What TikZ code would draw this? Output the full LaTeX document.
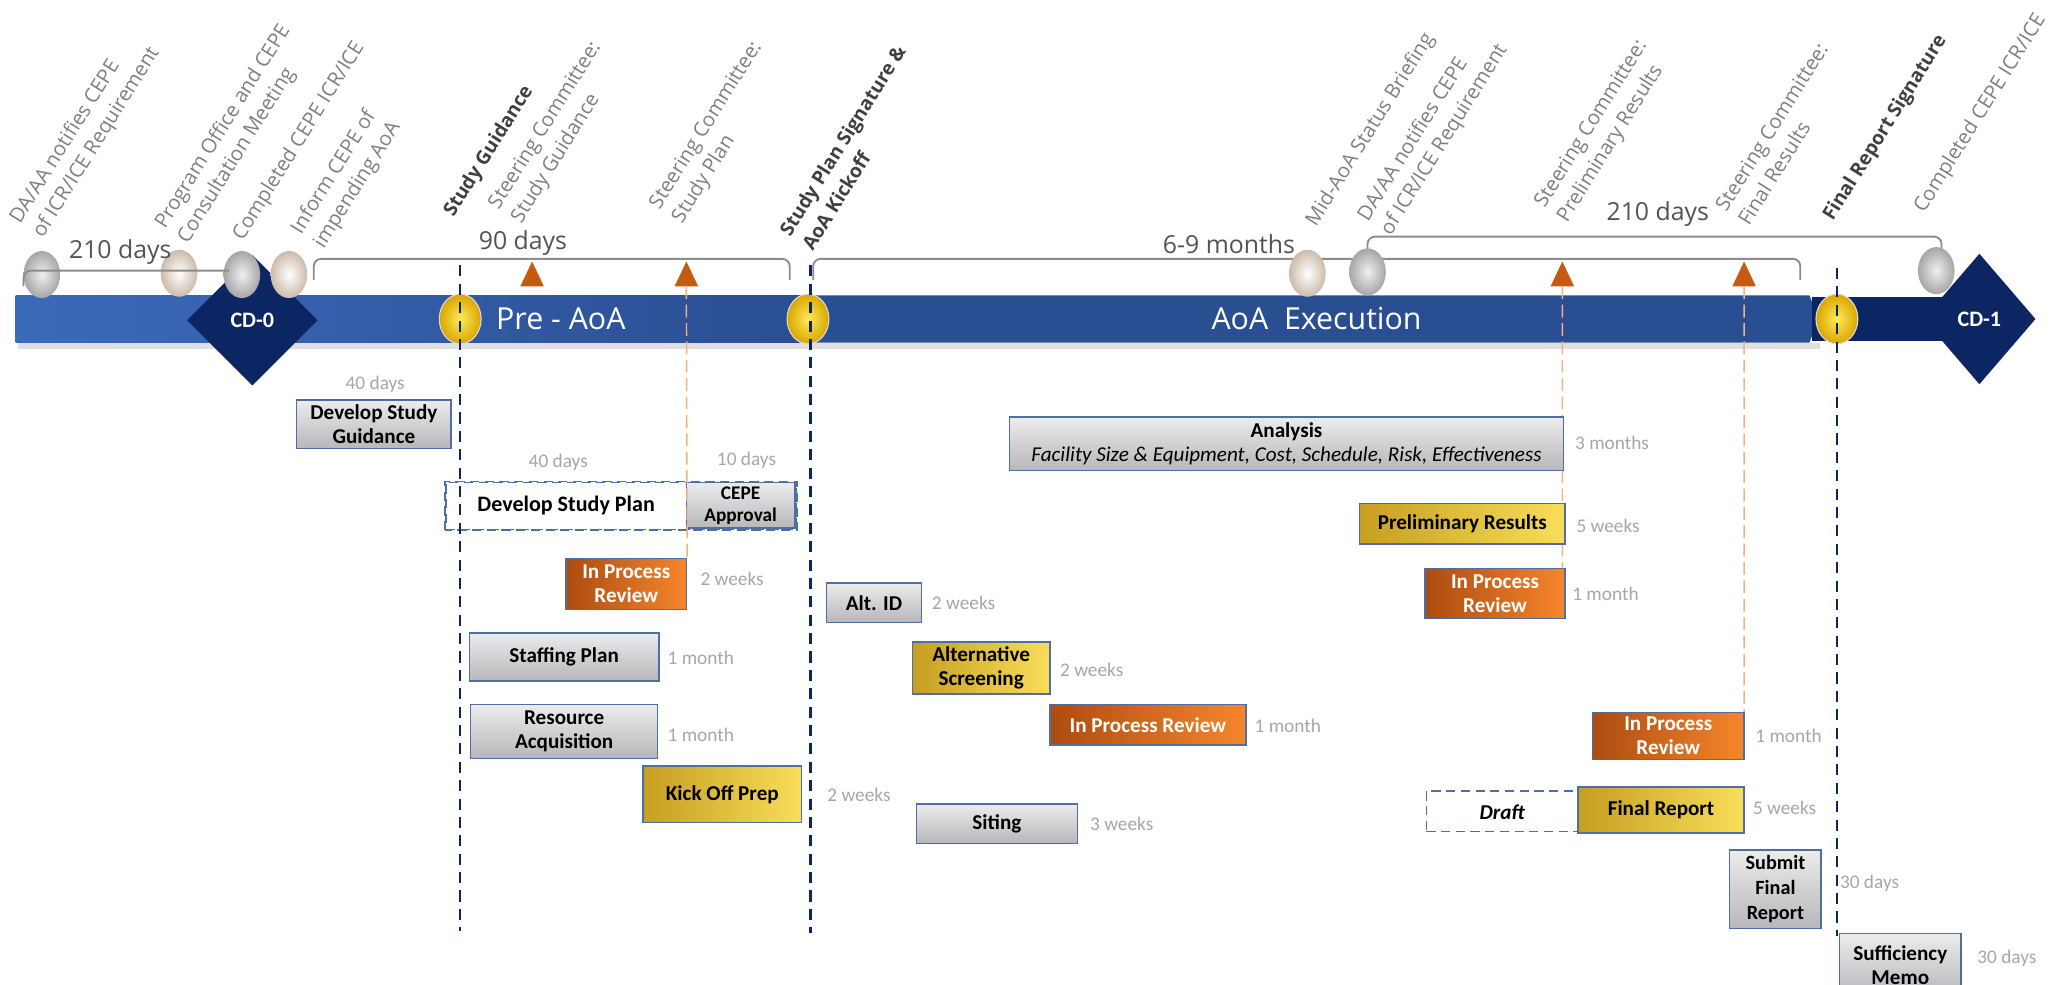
\documentclass[tikz,border=0pt]{standalone}
\usepackage{fontspec}
\setmainfont{Carlito}
\newfontfamily\osans{Open Sans}
\usetikzlibrary{shapes.geometric}

\definecolor{barlt}{HTML}{3D6DC0}
\definecolor{bardk}{HTML}{2A4E92}
\definecolor{navy}{HTML}{0C2563}
\definecolor{boxline}{HTML}{4F6FA3}
\definecolor{boxlt}{HTML}{ECECEC}
\definecolor{boxdk}{HTML}{B7B7BB}
\definecolor{goldlt}{HTML}{F8DE5A}
\definecolor{golddk}{HTML}{C79E22}
\definecolor{orglt}{HTML}{F6862C}
\definecolor{orgdk}{HTML}{AD4C10}
\definecolor{tricol}{HTML}{C55A11}
\definecolor{steerline}{HTML}{F4B183}
\definecolor{lblgray}{HTML}{7F7F7F}
\definecolor{boldgray}{HTML}{404040}
\definecolor{durgray}{HTML}{A6A6A6}
\definecolor{spangray}{HTML}{8C8C8C}
\definecolor{cream}{HTML}{F5E8DC}
\definecolor{creamdk}{HTML}{CDBBAA}
\definecolor{gatelt}{HTML}{FFEB5A}
\definecolor{gatedk}{HTML}{D9A600}

\tikzstyle{task}=[draw=boxline,line width=0.8pt,align=center,inner sep=1pt,font=\bfseries\fontsize{11.5}{13}\selectfont]
\tikzstyle{graytask}=[task,top color=boxlt,bottom color=boxdk]
\tikzstyle{goldtask}=[task,left color=golddk,right color=goldlt]
\tikzstyle{iprtask}=[task,left color=orgdk,right color=orglt,text=white]
\tikzstyle{dashtask}=[draw=boxline,line width=0.8pt,dash pattern=on 5pt off 3pt,fill=white,inner sep=0pt]
\tikzstyle{dur}=[text=durgray,font=\fontsize{10.5}{12}\selectfont]
\tikzstyle{mlab}=[rotate=58,anchor=south west,align=left,inner sep=0pt,text=lblgray,font=\osans\fontsize{11}{14.5}\selectfont]
\tikzstyle{mlabbold}=[mlab,text=boldgray,font=\osans\bfseries\fontsize{10.5}{14.5}\selectfont]
\tikzstyle{span}=[draw=spangray,line width=1pt,rounded corners=4pt]
\tikzstyle{spanlab}=[text=boldgray!90,font=\osans\fontsize{13.5}{15}\selectfont]
\tikzstyle{phase}=[text=white,font=\osans\fontsize{16.5}{18}\selectfont]
\tikzstyle{gate}=[draw=navy,line width=1.4pt,dash pattern=on 6pt off 4pt]
\tikzstyle{steer}=[draw=steerline,line width=0.8pt,dash pattern=on 7pt off 3pt]
\tikzstyle{cd}=[diamond,fill=navy,inner sep=0pt,text=white,font=\bfseries\fontsize{12}{13}\selectfont]
\tikzstyle{grayball}=[inner color=gray!12,outer color=gray!70]
\tikzstyle{creamball}=[inner color=white,outer color=creamdk]
\tikzstyle{gateball}=[inner color=gatelt,outer color=gatedk,draw=gray!30,line width=0.6pt]

\begin{document}
\begin{tikzpicture}[x=0.025cm,y=-0.025cm]
        \useasboundingbox (0,0) rectangle (1568,753);
        % phase bar
        \fill[black,opacity=0.12] (14,262) rectangle (1392,267);
        \shade[left color=barlt!90!bardk,middle color=barlt,right color=bardk] (12,226) rectangle (618,262);
        \shade[left color=bardk,middle color=barlt,right color=bardk] (618,226) -- (1384,226) -- (1391,244) -- (1384,262) -- (618,262) -- cycle;
        \fill[navy] (1386,227) rectangle (1490,261);
        \draw (429,244) node[phase](pre){Pre - AoA};
        \draw (1007,244) node[phase](exec){AoA~ Execution};
        \draw (193,245) node[cd,minimum width=2.5cm,minimum height=2.5cm](cd0){CD-0};
        %
        \draw[span] (240,214) -- (240,198) -- (604,198) -- (604,214);
        \draw[span] (622,214) -- (622,198) -- (1377,198) -- (1377,214);
        \draw[span] (1046,193) -- (1046,181) -- (1485,181) -- (1485,193);
        %
        \shade[grayball] (32,210) ellipse [x radius=14,y radius=18];
        \shade[creamball] (137,209) ellipse [x radius=14,y radius=18];
        \shade[grayball] (185,210) ellipse [x radius=14,y radius=18];
        \shade[creamball] (221,210) ellipse [x radius=14,y radius=18];
        \shade[creamball] (1000,209) ellipse [x radius=14,y radius=18];
        \shade[grayball] (1046,208) ellipse [x radius=14,y radius=18];
        \shade[grayball] (1481,207) ellipse [x radius=14,y radius=18];
        \draw (1514,244) node[cd,minimum width=2.15cm,minimum height=2.5cm](cd1){CD-1};
        \draw[span] (18,219) -- (18,207) -- (175,207);
        %
        \draw (92,193) node[spanlab](d210a){210 days};
        \draw (400,186) node[spanlab](d90){90 days};
        \draw (940,187) node[spanlab](d69){6-9 months};
        \draw (1268,164) node[spanlab](d210b){210 days};
        %
        \foreach \gx in {352,618,1405}
            \shade[gateball] (\gx,244) ellipse [x radius=16,y radius=19];
        %
        \foreach \tx in {407,525,1195,1334}
            \fill[tricol] (\tx-9,219) -- (\tx,200) -- (\tx+9,219) -- cycle;
        \coordinate (sc2) at (525,219);
        \coordinate (sc3) at (1195,219);
        \coordinate (sc4) at (1334,219);
        %
        \draw (36,185) node[mlab](m1){DA/AA notifies CEPE\\of ICR/ICE Requirement};
        \draw (147,189) node[mlab](m2){Program Office and CEPE\\Consultation Meeting};
        \draw (189,187) node[mlab](m3){Completed CEPE ICR/ICE};
        \draw (251,193) node[mlab](m4){Inform CEPE of\\impending AoA};
        \draw (350,169) node[mlabbold](m5){Study Guidance};
        \draw (402,174) node[mlab](m6){Steering Committee:\\Study Guidance};
        \draw (525,174) node[mlab](m7){Steering Committee:\\Study Plan};
        \draw (622,193) node[mlabbold](m8){Study Plan Signature \&\\AoA Kickoff};
        \draw (1010,176) node[mlab](m9){Mid-AoA Status Briefing};
        \draw (1067,183) node[mlab](m10){DA/AA notifies CEPE\\of ICR/ICE Requirement};
        \draw (1202,173) node[mlab](m11){Steering Committee:\\Preliminary Results};
        \draw (1338,174) node[mlab](m12){Steering Committee:\\Final Results};
        \draw (1405,172) node[mlabbold](m13){Final Report Signature};
        \draw (1475,166) node[mlab](m14){Completed CEPE ICR/ICE};
        %
        \draw (475,387) node[dashtask,minimum width=6.7cm,minimum height=0.9cm](planbox){};
        \draw (1212.5,620.5) node[dashtask,minimum width=6.075cm,minimum height=0.775cm](draftbox){};
        \draw (433,387) node[font=\bfseries\fontsize{12}{13}\selectfont](plan){Develop Study Plan};
        \draw (1149,621) node[font=\bfseries\itshape\fontsize{11.5}{13}\selectfont](draft){Draft};
        %
        \draw (286,324.5) node[graytask,minimum width=2.95cm,minimum height=0.925cm](guid){Develop Study\\Guidance};
        \draw (566.5,386.5) node[graytask,minimum width=2.075cm,minimum height=0.875cm,font=\bfseries\fontsize{10.5}{12}\selectfont](cepe){CEPE\\Approval};
        \draw[draw=boxline,line width=0.8pt,dash pattern=on 5pt off 3pt] (planbox.south west) rectangle (planbox.north east);
        \draw (479,446.5) node[iprtask,minimum width=2.3cm,minimum height=0.975cm](ipr1){In Process\\Review};
        \draw (431.5,502.5) node[graytask,minimum width=3.625cm,minimum height=0.925cm](staff){Staffing Plan};
        \draw (431.5,559.5) node[graytask,minimum width=3.575cm,minimum height=1.025cm](res){Resource\\Acquisition};
        \draw (552.5,607.5) node[goldtask,minimum width=3.025cm,minimum height=1.075cm](kick){Kick Off Prep};
        \draw (668.5,461) node[graytask,minimum width=1.825cm,minimum height=0.75cm](altid){Alt. ID};
        \draw (750.5,511) node[goldtask,minimum width=2.625cm,minimum height=1cm](altscr){Alternative\\Screening};
        \draw (878,554.5) node[iprtask,minimum width=3.75cm,minimum height=0.775cm](ipr2){In Process Review};
        \draw (762.5,630) node[graytask,minimum width=3.075cm,minimum height=0.75cm](siting){Siting};
        \path[steer] (sc2) -- (ipr1.north east) (sc3) -- (1195,435) (sc4) -- (1334,545);
        \draw (984,339.5) node[graytask,minimum width=10.6cm,minimum height=1.025cm](analysis){Analysis\\{\mdseries\itshape Facility Size \& Equipment, Cost, Schedule, Risk, Effectiveness}};
        \draw (1118.5,400.5) node[goldtask,minimum width=3.925cm,minimum height=0.775cm](prelim){Preliminary Results};
        \draw (1143.5,454) node[iprtask,minimum width=2.675cm,minimum height=0.95cm](ipr3){In Process\\Review};
        \draw (1276,563) node[iprtask,minimum width=2.9cm,minimum height=0.9cm](ipr4){In Process\\Review};
        \draw (1270.5,619.5) node[goldtask,minimum width=3.175cm,minimum height=0.875cm](final){Final Report};
        \draw (1358,680) node[graytask,minimum width=1.75cm,minimum height=1.5cm,font=\bfseries\fontsize{11}{13.5}\selectfont](submit){Submit\\Final\\Report};
        \draw (1453.5,738) node[graytask,minimum width=2.325cm,minimum height=1.2cm](memo){Sufficiency\\Memo};
        %
        \draw (287,294) node[dur](t1){40 days};
        \draw (427,354) node[dur](t2){40 days};
        \draw (571,352) node[dur](t3){10 days};
        \draw (560,443) node[dur](t4){2 weeks};
        \draw (536,503) node[dur](t5){1 month};
        \draw (536,562) node[dur](t6){1 month};
        \draw (657,608) node[dur](t7){2 weeks};
        \draw (737,461) node[dur](t8){2 weeks};
        \draw (835,512) node[dur](t9){2 weeks};
        \draw (985,555) node[dur](t10){1 month};
        \draw (858,630) node[dur](t11){3 weeks};
        \draw (1233,339) node[dur](t12){3 months};
        \draw (1230,402) node[dur](t13){5 weeks};
        \draw (1228,454) node[dur](t14){1 month};
        \draw (1368,563) node[dur](t15){1 month};
        \draw (1365,618) node[dur](t16){5 weeks};
        \draw (1430,676) node[dur](t17){30 days};
        \draw (1535,733) node[dur](t18){30 days};
        %
        \coordinate (g1a) at (352,203); \coordinate (g1b) at (352,712);
        \coordinate (g2a) at (620,203); \coordinate (g2b) at (620,714);
        \coordinate (g3a) at (1405,205); \coordinate (g3b) at (1405,716);
        \path[gate] (g1a) -- (g1b) (g2a) -- (g2b) (g3a) -- (g3b);
\end{tikzpicture}
\end{document}
